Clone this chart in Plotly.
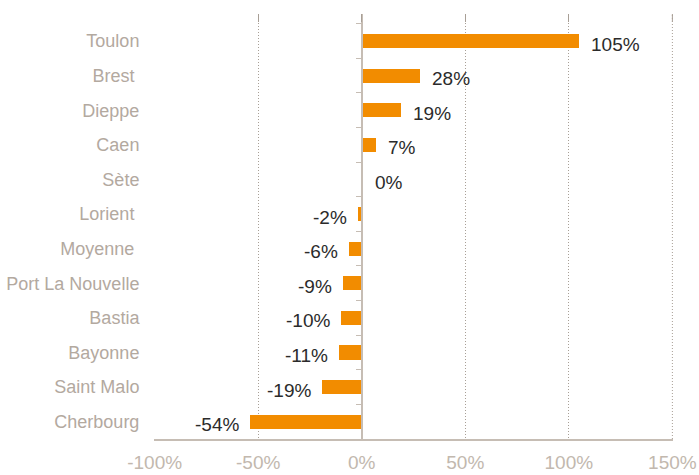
import plotly.graph_objects as go

# Port traffic change by city (percent)
ports = ["Toulon", "Brest ", "Dieppe", "Caen", "Sète", "Lorient ", "Moyenne ",
         "Port La Nouvelle", "Bastia", "Bayonne", "Saint Malo", "Cherbourg"]
change = [105, 28, 19, 7, 0.49, -2, -6, -9, -10, -11, -19, -54]
x_ticks = [-100, -50, 0, 50, 100, 150]
x_tick_labels = ["-100%", "-50%", "0%", "50%", "100%", "150%"]

BAR = "#f28c00"
LABEL_GREY = "#b3a99f"
LINE_GREY = "#c6bdb4"
GRID_GREY = "#a89f96"
FONT = "Liberation Sans, Arial, sans-serif"

x_range = [-100.3, 150.3]
y_range = [11.5, -0.78]

fig = go.Figure()
fig.add_trace(go.Bar(
    x=change, y=ports, orientation="h", width=0.41,
    marker=dict(color=BAR, line=dict(width=0)),
    hoverinfo="skip", xaxis="x", yaxis="y",
))
# helper trace so the overlay axes are drawn
fig.add_trace(go.Scatter(x=[0], y=[ports[0]], mode="markers",
                         marker=dict(opacity=0), xaxis="x2", yaxis="y2",
                         hoverinfo="skip", showlegend=False))

for name, v in zip(ports, change):
    txt = f"{round(v):d}%"
    pos = v >= 0
    fig.add_annotation(
        x=v, y=name, xref="x", yref="y", text=txt, showarrow=False,
        xanchor="left" if pos else "right", xshift=10 if pos else -9,
        yshift=-3, font=dict(family=FONT, size=19, color="#2b2b2b"),
    )

# dotted guide at the right edge, where plotly omits the gridline
fig.add_shape(type="line", xref="x", yref="paper", x0=x_ticks[-1], x1=x_ticks[-1],
              y0=0, y1=1, line=dict(color=GRID_GREY, width=1, dash="1px,2px"),
              layer="below")
fig.add_shape(type="line", xref="x", yref="paper", x0=x_ticks[-1], x1=x_ticks[-1],
              y0=0.982, y1=1, line=dict(color=GRID_GREY, width=1))

fig.update_layout(
    width=699, height=475,
    margin=dict(l=154, r=26, t=14, b=36),
    paper_bgcolor="white", plot_bgcolor="white",
    showlegend=False, bargap=0,
    font=dict(family=FONT),
    xaxis=dict(
        range=x_range, tickvals=x_ticks, ticktext=x_tick_labels,
        showgrid=True, gridcolor=GRID_GREY, griddash="1px,2px", gridwidth=1,
        zeroline=False, showline=True, linecolor=LINE_GREY, linewidth=2,
        ticks="outside", ticklen=5, tickcolor="rgba(0,0,0,0)",
        tickfont=dict(family=FONT, size=19, color="#c2b8ae"),
        automargin=False, fixedrange=True,
    ),
    xaxis2=dict(
        range=x_range, tickvals=x_ticks, overlaying="x", side="top",
        anchor="y", ticks="inside", ticklen=8, tickcolor=GRID_GREY, tickwidth=1,
        showticklabels=False, showgrid=False, zeroline=False, showline=False,
        automargin=False,
    ),
    yaxis=dict(
        type="category", categoryorder="array", categoryarray=ports,
        range=y_range, showgrid=False, zeroline=False, showline=False,
        ticks="outside", ticklen=10, tickcolor="rgba(0,0,0,0)",
        tickfont=dict(family=FONT, size=18, color=LABEL_GREY),
        automargin=False,
    ),
    yaxis2=dict(
        type="category", categoryorder="array", categoryarray=ports,
        range=y_range, overlaying="y", anchor="free",
        position=(0 - x_range[0]) / (x_range[1] - x_range[0]),
        side="left", showline=True, linecolor=LINE_GREY, linewidth=2,
        ticks="outside", ticklen=5, tickcolor=LINE_GREY, tickwidth=1,
        tickson="boundaries", showticklabels=False, showgrid=False,
        zeroline=False, automargin=False,
    ),
)

fig.write_html("out.html")
